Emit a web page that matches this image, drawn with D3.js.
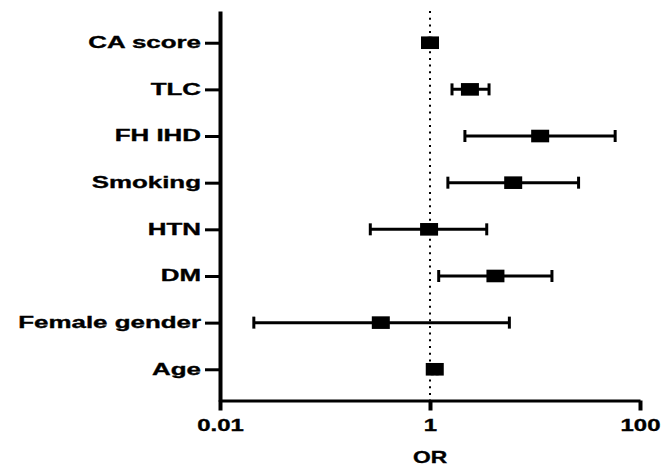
<!DOCTYPE html>
<html>
<head>
<meta charset="utf-8">
<script src="https://cdn.jsdelivr.net/npm/d3@7"></script>
<style>
  body { margin: 0; background: #fff; }
  text { font-family: "Liberation Sans", Arial, sans-serif; font-weight: bold; fill: #000; stroke: #000; stroke-width: 0.35px; }
</style>
</head>
<body>
<div id="chart"></div>
<script>
// datos (de arriba a abajo)
const categories = ["CA score", "TLC", "FH IHD", "Smoking", "HTN", "DM", "Female gender", "Age"];
const oddsRatio = [1.0, 2.4, 11.2, 6.2, 0.98, 4.2, 0.34, 1.11];
const lowerCI = [0.98, 1.62, 2.15, 1.48, 0.27, 1.21, 0.021, 1.05];
const upperCI = [1.02, 3.65, 58, 26, 3.47, 14.5, 5.7, 1.17];
const xTicks = [0.01, 1, 100];
const xTickLabels = ["0.01", "1", "100"];
const xLabel = "OR";

const w = 661;
const h = 466;

const svg = d3.select("#chart").append("svg").attr("width", w).attr("height", h);

// Escalas
const xScale = d3.scaleLog().domain([0.01, 100]).range([220, 640]);
const yScale = d3.scalePoint().domain(categories).range([11, 401]).padding(0.68);

// Linea de referencia en OR = 1
svg
  .append("line")
  .attr("x1", xScale(1))
  .attr("x2", xScale(1))
  .attr("y1", 11)
  .attr("y2", 400)
  .attr("stroke", "#000")
  .attr("stroke-width", 2)
  .attr("stroke-dasharray", "2,4.7");

// Ejes
const xAxis = d3.axisBottom(xScale).tickValues(xTicks).tickFormat((d, i) => xTickLabels[i]).tickSize(10).tickSizeOuter(0);
const gx = svg.append("g").attr("transform", "translate(0,400.5)").call(xAxis);
gx.attr("font-family", null);
gx.select(".domain").attr("stroke-width", 3);
gx.selectAll(".tick line").attr("stroke-width", 4);
gx.selectAll(".tick text")
  .attr("y", null)
  .attr("dy", null)
  .attr("font-size", 16.5)
  .attr("transform", "translate(0,30) scale(1.45,1)");

const yAxis = d3.axisLeft(yScale).tickSize(15).tickSizeOuter(0);
const gy = svg.append("g").attr("transform", "translate(220,0)").call(yAxis);
gy.attr("font-family", null);
gy.select(".domain").attr("stroke-width", 4);
gy.selectAll(".tick line").attr("stroke-width", 3);
gy.selectAll(".tick text")
  .attr("x", null)
  .attr("dy", "0.3em")
  .attr("font-size", 16.5)
  .attr("transform", "translate(-19,0) scale(1.57,1)");

// Titulo del eje X
svg
  .append("text")
  .attr("text-anchor", "middle")
  .attr("font-size", 16.5)
  .attr("transform", `translate(${xScale(1)},463) scale(1.38,1)`)
  .text(xLabel);

// Intervalos de confianza
const rows = categories.map((c, i) => ({ c, or: oddsRatio[i], lo: lowerCI[i], hi: upperCI[i] }));

const bars = svg.append("g").selectAll("g").data(rows).enter().append("g");

bars
  .append("line")
  .attr("x1", (d) => xScale(d.lo))
  .attr("x2", (d) => xScale(d.hi))
  .attr("y1", (d) => yScale(d.c))
  .attr("y2", (d) => yScale(d.c))
  .attr("stroke", "#000")
  .attr("stroke-width", 3);

bars
  .selectAll(".cap")
  .data((d) => [
    { x: d.lo, c: d.c },
    { x: d.hi, c: d.c }
  ])
  .enter()
  .append("line")
  .attr("class", "cap")
  .attr("x1", (d) => xScale(d.x))
  .attr("x2", (d) => xScale(d.x))
  .attr("y1", (d) => yScale(d.c) - 6)
  .attr("y2", (d) => yScale(d.c) + 6)
  .attr("stroke", "#000")
  .attr("stroke-width", 3);

// Cuadrados del OR
bars
  .append("rect")
  .attr("x", (d) => xScale(d.or) - 9)
  .attr("y", (d) => yScale(d.c) - 6.3)
  .attr("width", 18)
  .attr("height", 12.6)
  .attr("fill", "#000");
</script>
</body>
</html>
